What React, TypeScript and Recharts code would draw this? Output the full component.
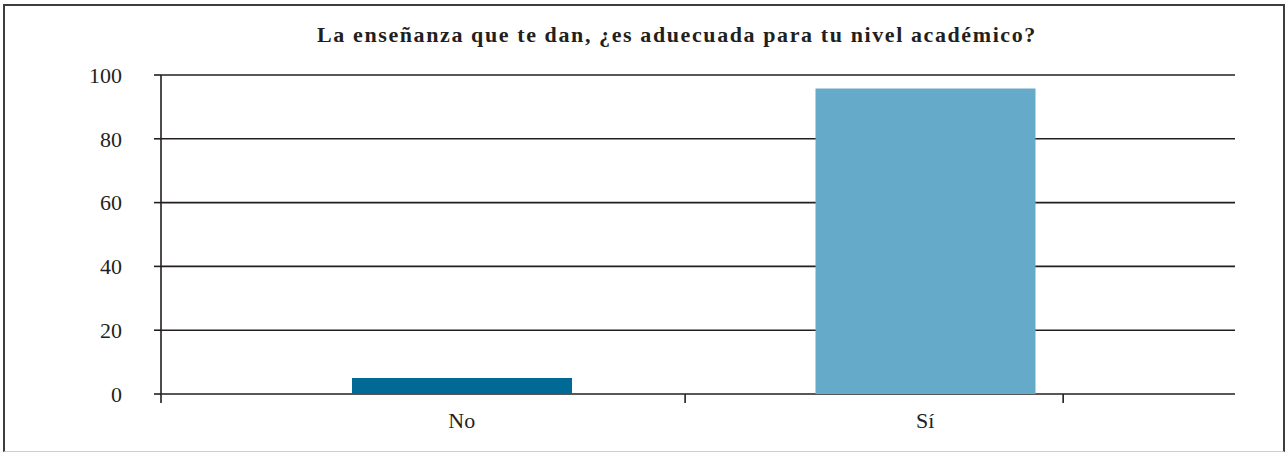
import { BarChart, Bar, XAxis, YAxis, CartesianGrid, Cell } from "recharts"

const title = "La enseñanza que te dan, ¿es aduecuada para tu nivel académico?"
const categories = ["No", "Sí"]
const values = [5, 95.8]
const barColors = ["#016995", "#66aac9"]
const yTicks = [0, 20, 40, 60, 80, 100]
// where the small marks under the x axis sit, as a share of the plot width
const xTickMarks = [0, 0.488, 0.84]

const data = categories.map((name, i) => ({ name, value: values[i] }))

const serif = "'Liberation Serif', 'DejaVu Serif', serif"
const lineColor = "#231f20"

const NoLabel = () => <g />

export default function App() {
  return (
    <div
      style={{
        position: "absolute",
        left: 3,
        top: 4,
        width: 1278,
        height: 445,
        border: "2px solid #3d3d3d",
        borderBottom: "1px solid #cfcfcf",
        background: "#fff",
      }}
    >
      <div
        style={{
          position: "absolute",
          top: 19,
          left: 672,
          transform: "translateX(-50%)",
          whiteSpace: "nowrap",
          fontFamily: serif,
          fontWeight: "bold",
          fontSize: 22,
          letterSpacing: 1.6,
          lineHeight: "20px",
          color: "#231f20",
        }}
      >
        {title}
      </div>
      <BarChart
        width={1278}
        height={445}
        data={data}
        margin={{ top: 69, right: 48, left: 0, bottom: 17 }}
      >
        <CartesianGrid vertical={false} stroke={lineColor} strokeWidth={1.6} />
        <XAxis
          type="number"
          domain={[0, 1]}
          ticks={xTickMarks}
          interval={0}
          tick={NoLabel}
          axisLine={false}
          tickLine={{ stroke: lineColor, strokeWidth: 1.6 }}
          tickSize={9}
          height={1}
          allowDataOverflow
        />
        <XAxis
          xAxisId="cat"
          dataKey="name"
          axisLine={false}
          tickLine={false}
          tickSize={0}
          tickMargin={17}
          height={39}
          padding={{ left: 69, right: 78 }}
          tick={{ fontFamily: serif, fontSize: 22, fill: lineColor }}
        />
        <YAxis
          domain={[0, 100]}
          ticks={yTicks}
          width={156}
          axisLine={{ stroke: lineColor, strokeWidth: 1.6 }}
          tickLine={{ stroke: lineColor, strokeWidth: 1.6 }}
          tickSize={7}
          tickMargin={32}
          tick={{ fontFamily: serif, fontSize: 22, fill: lineColor }}
        />
        <Bar xAxisId="cat" dataKey="value" barSize={220} isAnimationActive={false}>
          {data.map((d, i) => (
            <Cell key={d.name} fill={barColors[i]} />
          ))}
        </Bar>
      </BarChart>
    </div>
  )
}
